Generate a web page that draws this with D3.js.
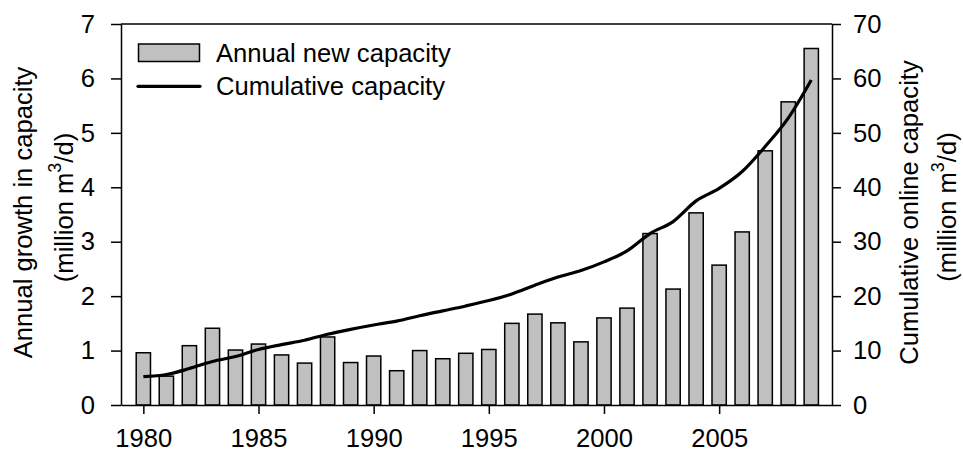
<!DOCTYPE html>
<html>
<head>
<meta charset="utf-8">
<script src="https://cdn.jsdelivr.net/npm/d3@7"></script>
<style>
  html, body { margin: 0; padding: 0; background: #fff; }
  svg { display: block; }
  text { font-family: "Liberation Sans", Arial, sans-serif; fill: #000; }
</style>
</head>
<body>
<svg id="chart" width="963" height="454"></svg>
<script>
// Years on the x axis
const years = [1980, 1981, 1982, 1983, 1984, 1985, 1986, 1987, 1988, 1989,
               1990, 1991, 1992, 1993, 1994, 1995, 1996, 1997, 1998, 1999,
               2000, 2001, 2002, 2003, 2004, 2005, 2006, 2007, 2008, 2009];

// Annual new capacity (million m3/d)
const annualNew = [0.96, 0.53, 1.09, 1.41, 1.01, 1.12, 0.92, 0.77, 1.25, 0.78,
                   0.90, 0.63, 1.00, 0.85, 0.95, 1.02, 1.50, 1.67, 1.51, 1.16,
                   1.60, 1.78, 3.15, 2.13, 3.53, 2.57, 3.18, 4.67, 5.57, 6.55];

// Cumulative online capacity (million m3/d)
const cumulative = [5.2, 5.6, 6.7, 8.0, 8.9, 10.2, 11.1, 11.9, 13.0, 13.9,
                    14.7, 15.4, 16.4, 17.3, 18.2, 19.2, 20.4, 22.0, 23.5, 24.7,
                    26.3, 28.3, 31.5, 33.7, 37.5, 39.8, 42.9, 47.5, 52.7, 59.7];

// Tick values
const xTicks = [1980, 1985, 1990, 1995, 2000, 2005];
const leftTicks = [0, 1, 2, 3, 4, 5, 6, 7];
const rightTicks = [0, 10, 20, 30, 40, 50, 60, 70];

// Legend entries
const legendLabels = ["Annual new capacity", "Cumulative capacity"];

const svg = d3.select("#chart");
const plot = { left: 121, right: 832, top: 24, bottom: 405 };
const fontSize = 25.6;

const x = d3.scaleLinear().domain([1979.03, 2009.9]).range([plot.left, plot.right]);
const yL = d3.scaleLinear().domain([0, 7]).range([plot.bottom, plot.top]);
const yR = d3.scaleLinear().domain([0, 70]).range([plot.bottom, plot.top]);

const barW = (x(1981) - x(1980)) * 0.62;

// Top frame line
svg.append("line")
  .attr("x1", plot.left).attr("x2", plot.right)
  .attr("y1", plot.top).attr("y2", plot.top)
  .attr("stroke", "#000").attr("stroke-width", 1.5);

// Bars
svg.append("g").selectAll("rect")
  .data(years.map((yr, i) => ({ yr, v: annualNew[i] })))
  .join("rect")
  .attr("x", d => x(d.yr) - barW / 2)
  .attr("width", barW)
  .attr("y", d => yL(d.v))
  .attr("height", d => yL(0) - yL(d.v))
  .attr("fill", "#c0c0c0")
  .attr("stroke", "#000")
  .attr("stroke-width", 1.5);

// Cumulative line
const line = d3.line()
  .x((d, i) => x(years[i]))
  .y(d => yR(d))
  .curve(d3.curveMonotoneX);

svg.append("path")
  .datum(cumulative)
  .attr("d", line)
  .attr("fill", "none")
  .attr("stroke", "#000")
  .attr("stroke-width", 3.2)
  .attr("stroke-linejoin", "round");

// Axes
function styleAxis(g) {
  g.select(".domain").attr("stroke", "#000").attr("stroke-width", 1.5);
  g.selectAll(".tick line").attr("stroke", "#000").attr("stroke-width", 1.5);
  g.selectAll(".tick text")
    .attr("font-size", fontSize)
    .attr("font-family", "'Liberation Sans', Arial, sans-serif")
    .attr("fill", "#000");
}

svg.append("g")
  .attr("transform", `translate(0,${plot.bottom})`)
  .call(d3.axisBottom(x).tickValues(xTicks).tickFormat(d3.format("d"))
    .tickSizeInner(9).tickSizeOuter(0).tickPadding(15))
  .call(styleAxis);

svg.append("g")
  .attr("transform", `translate(${plot.left},0)`)
  .call(d3.axisLeft(yL).tickValues(leftTicks).tickFormat(d3.format("d"))
    .tickSizeInner(10).tickSizeOuter(0).tickPadding(16))
  .call(styleAxis);

svg.append("g")
  .attr("transform", `translate(${plot.right},0)`)
  .call(d3.axisRight(yR).tickValues(rightTicks).tickFormat(d3.format("d"))
    .tickSizeInner(9).tickSizeOuter(0).tickPadding(12))
  .call(styleAxis);

// Axis titles (two lines, the second with a superscript 3)
function unitLine(sel) {
  sel.append("tspan").text("(million m");
  sel.append("tspan").text("3").attr("font-size", fontSize * 0.7).attr("dy", -fontSize * 0.45);
  sel.append("tspan").text("/d)").attr("dy", fontSize * 0.45);
}

const leftTitle = svg.append("g").attr("font-size", fontSize).attr("text-anchor", "middle");
leftTitle.append("text")
  .attr("transform", "translate(32,212.5) rotate(-90)")
  .text("Annual growth in capacity");
leftTitle.append("text")
  .attr("transform", "translate(72.5,207.5) rotate(-90)")
  .call(unitLine);

const rightTitle = svg.append("g").attr("font-size", fontSize).attr("text-anchor", "middle");
rightTitle.append("text")
  .attr("transform", "translate(917.5,212.5) rotate(-90)")
  .text("Cumulative online capacity");
rightTitle.append("text")
  .attr("transform", "translate(956,207) rotate(-90)")
  .call(unitLine);

// Legend
const legend = svg.append("g").attr("font-size", fontSize);
legend.append("rect")
  .attr("x", 138.5).attr("y", 44).attr("width", 61).attr("height", 17.5)
  .attr("fill", "#c0c0c0").attr("stroke", "#000").attr("stroke-width", 1.5);
legend.append("line")
  .attr("x1", 138).attr("x2", 200).attr("y1", 86.3).attr("y2", 86.3)
  .attr("stroke", "#000").attr("stroke-width", 3.2).attr("stroke-linecap", "round");
legend.selectAll("text.lg")
  .data(legendLabels)
  .join("text")
  .attr("class", "lg")
  .attr("x", 216)
  .attr("y", (d, i) => [52.8, 86.3][i] + fontSize * 0.358)
  .text(d => d);
</script>
</body>
</html>
